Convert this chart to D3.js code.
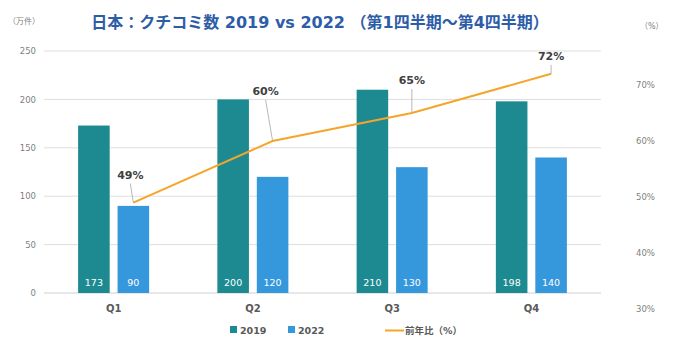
<!DOCTYPE html>
<html>
<head>
<meta charset="utf-8">
<script src="https://cdn.jsdelivr.net/npm/d3@7"></script>
<style>
  body { margin: 0; background: #fff; }
  text { font-family: "DejaVu Sans", "Noto Sans CJK JP", sans-serif; }
</style>
</head>
<body>
<div id="container"></div>
<script>
// data
const quarters = ["Q1", "Q2", "Q3", "Q4"];
const years = ["2019", "2022"];
const counts2019 = [173, 200, 210, 198];
const counts2022 = [90, 120, 130, 140];
const yoyPct = [49, 60, 65, 72];
const leftTicks = [0, 50, 100, 150, 200, 250];
const rightTicks = [30, 40, 50, 60, 70];

// label offsets for the % annotations (dx, dy from the point)
const labelOffsets = [[-3, -28], [-7, -50], [0, -33], [0, -18]];

const width = 690;
const height = 349;
const colors = { "2019": "#1d8a91", "2022": "#3598dc" };
const lineColor = "#f5a52a";

const svg = d3.select("#container")
  .append("svg")
  .attr("width", width)
  .attr("height", height);

// scales
const xScale = d3.scaleBand()
  .domain(quarters)
  .range([44, 601])
  .paddingInner(0.49)
  .paddingOuter(0.245);

const xInner = d3.scaleBand()
  .domain(years)
  .range([0, xScale.bandwidth()])
  .paddingInner(0.2);

const yScale = d3.scaleLinear().domain([0, 250]).range([293, 51]);
const yPct = d3.scaleLinear().domain([30, 70]).range([309, 85]);

// gridlines
svg.selectAll("line.grid")
  .data(leftTicks)
  .join("line")
  .attr("class", "grid")
  .attr("x1", 44).attr("x2", 601)
  .attr("y1", d => yScale(d)).attr("y2", d => yScale(d))
  .attr("stroke", d => d === 0 ? "#d0d0d0" : "#dedede")
  .attr("stroke-width", 1);

// left axis
const leftAxis = svg.append("g")
  .attr("transform", "translate(36,0)")
  .call(d3.axisLeft(yScale).tickValues(leftTicks).tickSize(0).tickPadding(0));
leftAxis.select(".domain").remove();
leftAxis.selectAll("text").attr("fill", "#7f7f7f").attr("font-size", 8.5);

// right axis
const rightAxis = svg.append("g")
  .attr("transform", "translate(636,0)")
  .call(d3.axisRight(yPct).tickValues(rightTicks).tickFormat(d => d + "%").tickSize(0).tickPadding(0));
rightAxis.select(".domain").remove();
rightAxis.selectAll("text").attr("fill", "#7f7f7f").attr("font-size", 8.5);

// bars
const rows = quarters.map((q, i) => ({ q, values: [counts2019[i], counts2022[i]] }));

const groups = svg.selectAll("g.quarter")
  .data(rows)
  .join("g")
  .attr("class", "quarter")
  .attr("transform", d => `translate(${xScale(d.q)},0)`);

groups.selectAll("rect")
  .data(d => d.values.map((v, j) => ({ year: years[j], v })))
  .join("rect")
  .attr("x", d => xInner(d.year))
  .attr("y", d => yScale(d.v))
  .attr("width", xInner.bandwidth())
  .attr("height", d => yScale(0) - yScale(d.v))
  .attr("fill", d => colors[d.year]);

groups.selectAll("text.val")
  .data(d => d.values.map((v, j) => ({ year: years[j], v })))
  .join("text")
  .attr("class", "val")
  .attr("x", d => xInner(d.year) + xInner.bandwidth() / 2)
  .attr("y", 286)
  .attr("text-anchor", "middle")
  .attr("fill", "#fff")
  .attr("font-size", 9.5)
  .text(d => d.v);

// x labels
svg.selectAll("text.xlab")
  .data(quarters)
  .join("text")
  .attr("class", "xlab")
  .attr("x", d => xScale(d) + xScale.bandwidth() / 2)
  .attr("y", 312)
  .attr("text-anchor", "middle")
  .attr("fill", "#595959")
  .attr("font-size", 10)
  .attr("font-weight", "bold")
  .text(d => d);

// YoY line, through the centre of the 2022 bars
const px = q => xScale(q) + xInner("2022") + xInner.bandwidth() / 2;
const pts = quarters.map((q, i) => ({ q, v: yoyPct[i], x: px(q), y: yPct(yoyPct[i]), off: labelOffsets[i] }));

svg.append("path")
  .datum(pts)
  .attr("fill", "none")
  .attr("stroke", lineColor)
  .attr("stroke-width", 2)
  .attr("d", d3.line().x(d => d.x).y(d => d.y));

// leader lines + labels
svg.selectAll("line.leader")
  .data(pts)
  .join("line")
  .attr("class", "leader")
  .attr("x1", d => d.x).attr("y1", d => d.y)
  .attr("x2", d => d.x + d.off[0]).attr("y2", d => d.y + d.off[1] + 9)
  .attr("stroke", "#a6a6a6")
  .attr("stroke-width", 0.8);

svg.selectAll("text.pct")
  .data(pts)
  .join("text")
  .attr("class", "pct")
  .attr("x", d => d.x + d.off[0])
  .attr("y", d => d.y + d.off[1] + 4)
  .attr("text-anchor", "middle")
  .attr("fill", "#404040")
  .attr("font-size", 11)
  .attr("font-weight", "bold")
  .text(d => d.v + "%");

// title and unit labels
svg.append("text")
  .attr("x", 320).attr("y", 28)
  .attr("text-anchor", "middle")
  .attr("fill", "#2e5da8")
  .attr("font-size", 16)
  .attr("font-weight", "bold")
  .text("日本：クチコミ数 2019 vs 2022 （第1四半期～第4四半期）");

svg.append("text")
  .attr("x", 8).attr("y", 24)
  .attr("fill", "#7f7f7f")
  .attr("font-size", 8)
  .text("（万件）");

svg.append("text")
  .attr("x", 640).attr("y", 29)
  .attr("fill", "#7f7f7f")
  .attr("font-size", 8)
  .text("（%）");

// legend
const legend = svg.append("g").attr("font-size", 9.5).attr("font-weight", "bold").attr("fill", "#595959");
years.forEach((y, i) => {
  const lx = 230 + i * 58;
  legend.append("rect").attr("x", lx).attr("y", 326).attr("width", 7).attr("height", 7).attr("fill", colors[y]);
  legend.append("text").attr("x", lx + 10).attr("y", 333.5).text(y);
});
legend.append("line")
  .attr("x1", 385).attr("x2", 404).attr("y1", 330.5).attr("y2", 330.5)
  .attr("stroke", lineColor).attr("stroke-width", 2);
legend.append("text").attr("x", 405).attr("y", 334).text("前年比（%）");
</script>
</body>
</html>
